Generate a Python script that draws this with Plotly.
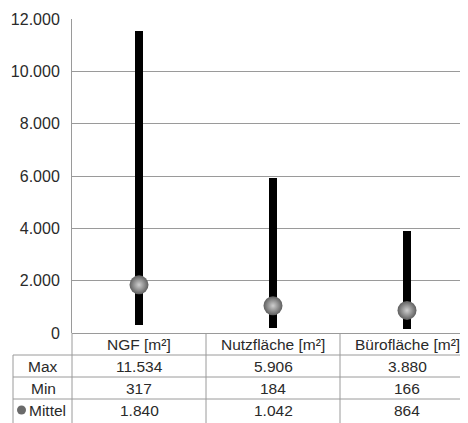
import plotly.graph_objects as go

# Flächenkennwerte
categories = ['NGF [m²]', 'Nutzfläche [m²]', 'Bürofläche [m²]']
max_values = [11534, 5906, 3880]
min_values = [317, 184, 166]
mean_values = [1840, 1042, 864]
row_labels = ['Max', 'Min', 'Mittel']
y_ticks = [0, 2000, 4000, 6000, 8000, 10000, 12000]

# the page body has an 8px margin, so screen coords are shifted by 8
OFF = 8
W, H = 468 - OFF, 423 - OFF
LEFT, TOP, BOTTOM = 72 - OFF, 19 - OFF, 333 - OFF
LINE = '#9a9a9a'
TEXT = '#2a2a2a'
FONT = 'Liberation Sans, Arial, sans-serif'
TSIZE = 15.5


def fmt(v):
    return f'{v:,}'.replace(',', '.')


def py(p):
    # screen row -> paper y
    return (BOTTOM - (p - OFF)) / (BOTTOM - TOP)


def px(p):
    # screen column -> paper x
    return (p - OFF - LEFT) / (W - LEFT)


xs = list(range(len(categories)))

fig = go.Figure()

# Spannweite Min..Max als schmale Balken
fig.add_trace(go.Bar(
    x=xs,
    y=[hi - lo for hi, lo in zip(max_values, min_values)],
    base=min_values,
    width=0.058,
    marker=dict(color='#000000', line=dict(width=0)),
    hoverinfo='skip',
))

# Mittelwert als graue Kugel
fig.add_trace(go.Scatter(
    x=xs,
    y=mean_values,
    mode='markers',
    marker=dict(size=19, color='#5e5e5e',
                gradient=dict(type='radial', color='#cfcfcf'),
                line=dict(width=0)),
    hoverinfo='skip',
))

# Tabelle unter dem Diagramm
rows_px = [344, 366, 388, 410]
tfont = dict(size=TSIZE, color=TEXT, family=FONT)
annotations = []
for i, cat in enumerate(categories):
    annotations.append(dict(x=i, y=py(rows_px[0]), xref='x', yref='paper', text=cat,
                            xanchor='center', yanchor='middle', showarrow=False, font=tfont))
    for r, vals in enumerate([max_values, min_values, mean_values]):
        annotations.append(dict(x=i, y=py(rows_px[r + 1]), xref='x', yref='paper', text=fmt(vals[i]),
                                xanchor='center', yanchor='middle', showarrow=False, font=tfont))
for r, lab in enumerate(row_labels):
    cx = 43 if lab != 'Mittel' else 47
    annotations.append(dict(x=px(cx), y=py(rows_px[r + 1]), xref='paper', yref='paper', text=lab,
                            xanchor='center', yanchor='middle', showarrow=False, font=tfont))

shapes = []
line = dict(color=LINE, width=1)
for yy in [355, 377, 399]:
    shapes.append(dict(type='line', xref='paper', yref='paper', x0=px(13), x1=1,
                       y0=py(yy), y1=py(yy), line=line, layer='below'))
shapes.append(dict(type='line', xref='paper', yref='paper', x0=px(13), x1=px(13),
                   y0=py(355), y1=py(430), line=line))
shapes.append(dict(type='line', xref='paper', yref='paper', x0=0, x1=0,
                   y0=py(333), y1=py(430), line=line))
for xd in [0.5, 1.5]:
    shapes.append(dict(type='line', xref='x', yref='paper', x0=xd, x1=xd,
                       y0=py(333), y1=py(430), line=line))
# kleine Kugel vor "Mittel"
shapes.append(dict(type='circle', xref='paper', yref='paper',
                   x0=px(17), x1=px(26), y0=py(405.5), y1=py(414.5),
                   fillcolor='#6a6a6a', line=dict(width=0)))

fig.update_layout(
    width=W, height=H,
    margin=dict(l=LEFT, r=0, t=TOP, b=H - BOTTOM),
    paper_bgcolor='white', plot_bgcolor='white',
    separators=',.',
    showlegend=False,
    font=dict(family=FONT, color=TEXT),
    xaxis=dict(range=[-0.5, -0.5 + (W - LEFT) / 134], showticklabels=False, showgrid=False,
               zeroline=False, showline=False, fixedrange=True),
    yaxis=dict(range=[0, 12000], tickvals=y_ticks, tickformat=',d', showgrid=True,
               gridcolor=LINE, gridwidth=1, zeroline=True, zerolinecolor=LINE, zerolinewidth=1,
               showline=True, linecolor=LINE, linewidth=1, ticks='',
               tickfont=dict(size=16, color=TEXT, family=FONT), ticklabelstandoff=8,
               fixedrange=True),
    annotations=annotations,
    shapes=shapes,
    bargap=0,
)

fig.write_html('out.html')
